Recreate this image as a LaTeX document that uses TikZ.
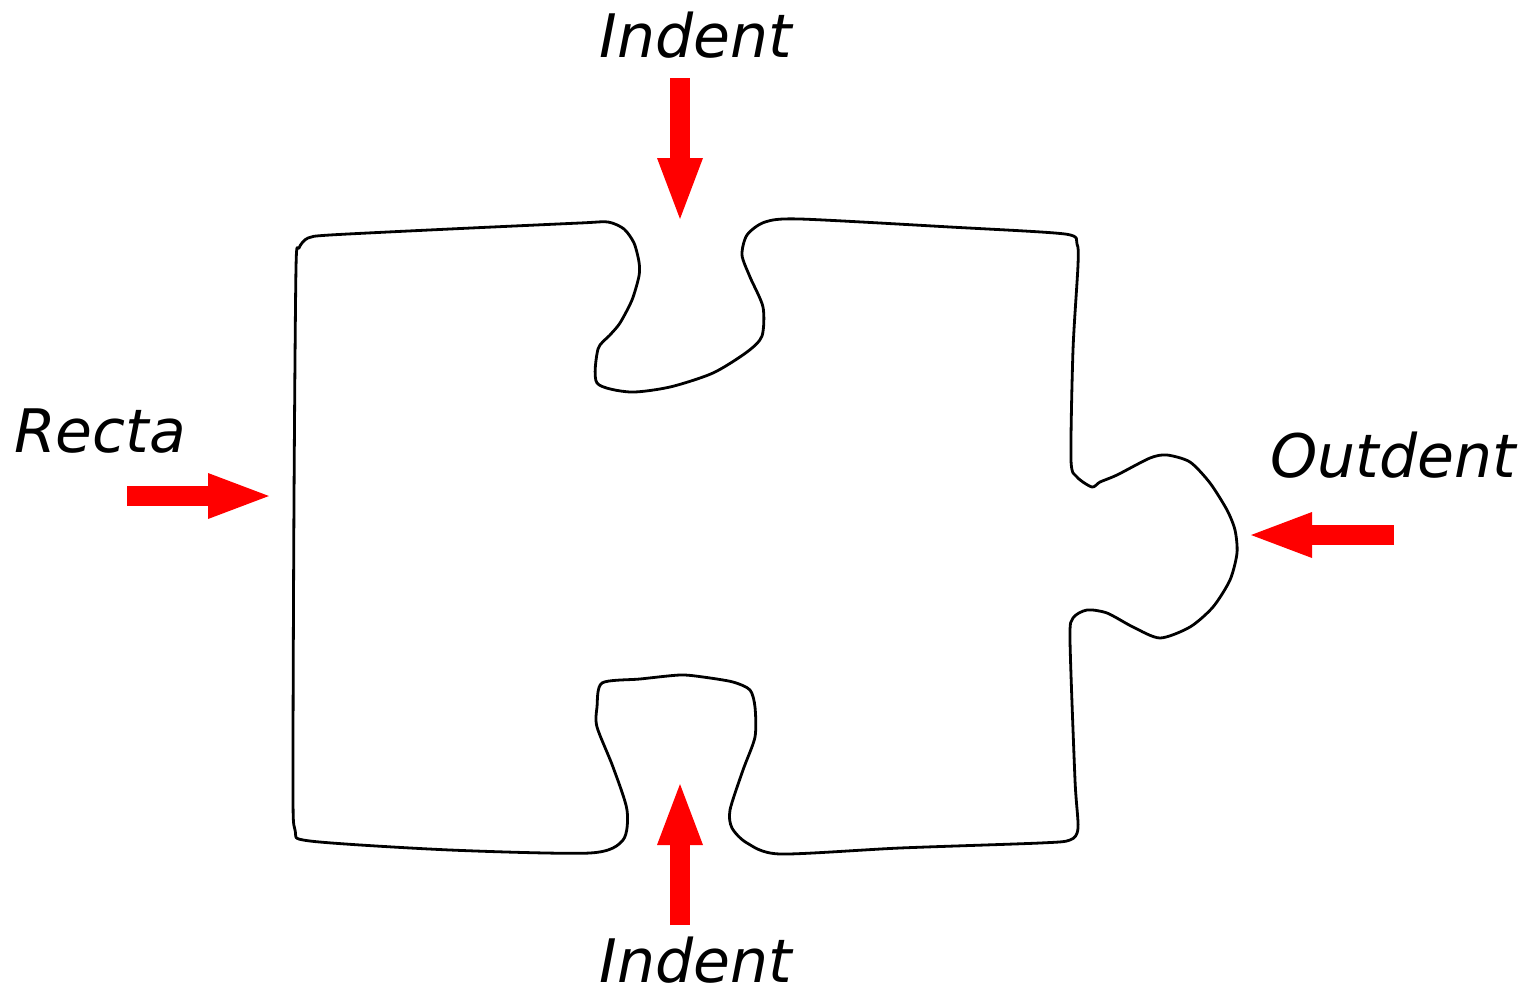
\documentclass[tikz,border=0pt]{standalone}
\usepackage{fontspec}
\setmainfont{DejaVu Sans}
\usetikzlibrary{arrows.meta}
\begin{document}
\begin{tikzpicture}[x=0.5pt,y=-0.5pt,
  lbl/.style={font=\fontsize{30}{36}\selectfont\itshape, inner sep=0pt, anchor=base},
  bigarrow/.style={draw=red, line width=10pt, -{Triangle[length=33pt,width=20pt]}},
  outline/.style={draw=black, line width=1.4pt, line join=round}]
\useasboundingbox (0,0) rectangle (1538,997);
% puzzle piece outline
\draw[outline] plot[smooth cycle, tension=0.45] coordinates {
 (296,268) (299,248) (308,238) (330,235) (450,229) (580,223) (608,222) (624,229) (634,243)
 (639,262) (639,276) (632,300) (620,323) (610,335) (598,349) (597,383)
 (630,392) (670,387) (713,373) (747,352) (762,336) (763,307) (750,277) (742,255) (747,235) (765,222)
 (800,219) (950,227) (1065,234) (1077,244) (1078,265) (1073,350) (1071,460)
 (1077,477) (1092,487) (1100,482) (1117,475) (1150,458) (1167,455) (1190,462) (1210,483)
 (1227,510) (1235,530) (1237,553) (1230,580) (1213,607) (1190,627) (1160,638) (1133,627)
 (1107,613) (1087,610) (1073,618) (1070,640) (1075,780) (1078,828) (1070,840)
 (1040,843) (900,848) (780,854) (747,843) (732,828) (730,810) (743,770) (755,737)
 (755,707) (750,690) (733,682) (703,677) (680,675) (640,679) (602,683)
 (597,707) (597,727) (613,767) (627,810) (623,840) (590,853)
 (450,850) (310,841) (295,830) (293,780) (294,500)
};
% arrows
\coordinate (tA) at (680,78);  \coordinate (tB) at (680,224);
\coordinate (bA) at (680,925); \coordinate (bB) at (680,779);
\coordinate (lA) at (127,496); \coordinate (lB) at (274,496);
\coordinate (rA) at (1394,535); \coordinate (rB) at (1246,535);
\draw[bigarrow] (tA) -- (tB);
\draw[bigarrow] (bA) -- (bB);
\draw[bigarrow] (lA) -- (lB);
\draw[bigarrow] (rA) -- (rB);
% labels
\node[lbl] (indtop) at (696,57) {Indent};
\node[lbl] (indbot) at (696,982) {Indent};
\node[lbl] (recta) at (100,452) {Recta};
\node[lbl] (outd) at (1393,477) {Outdent};
\end{tikzpicture}
\end{document}
